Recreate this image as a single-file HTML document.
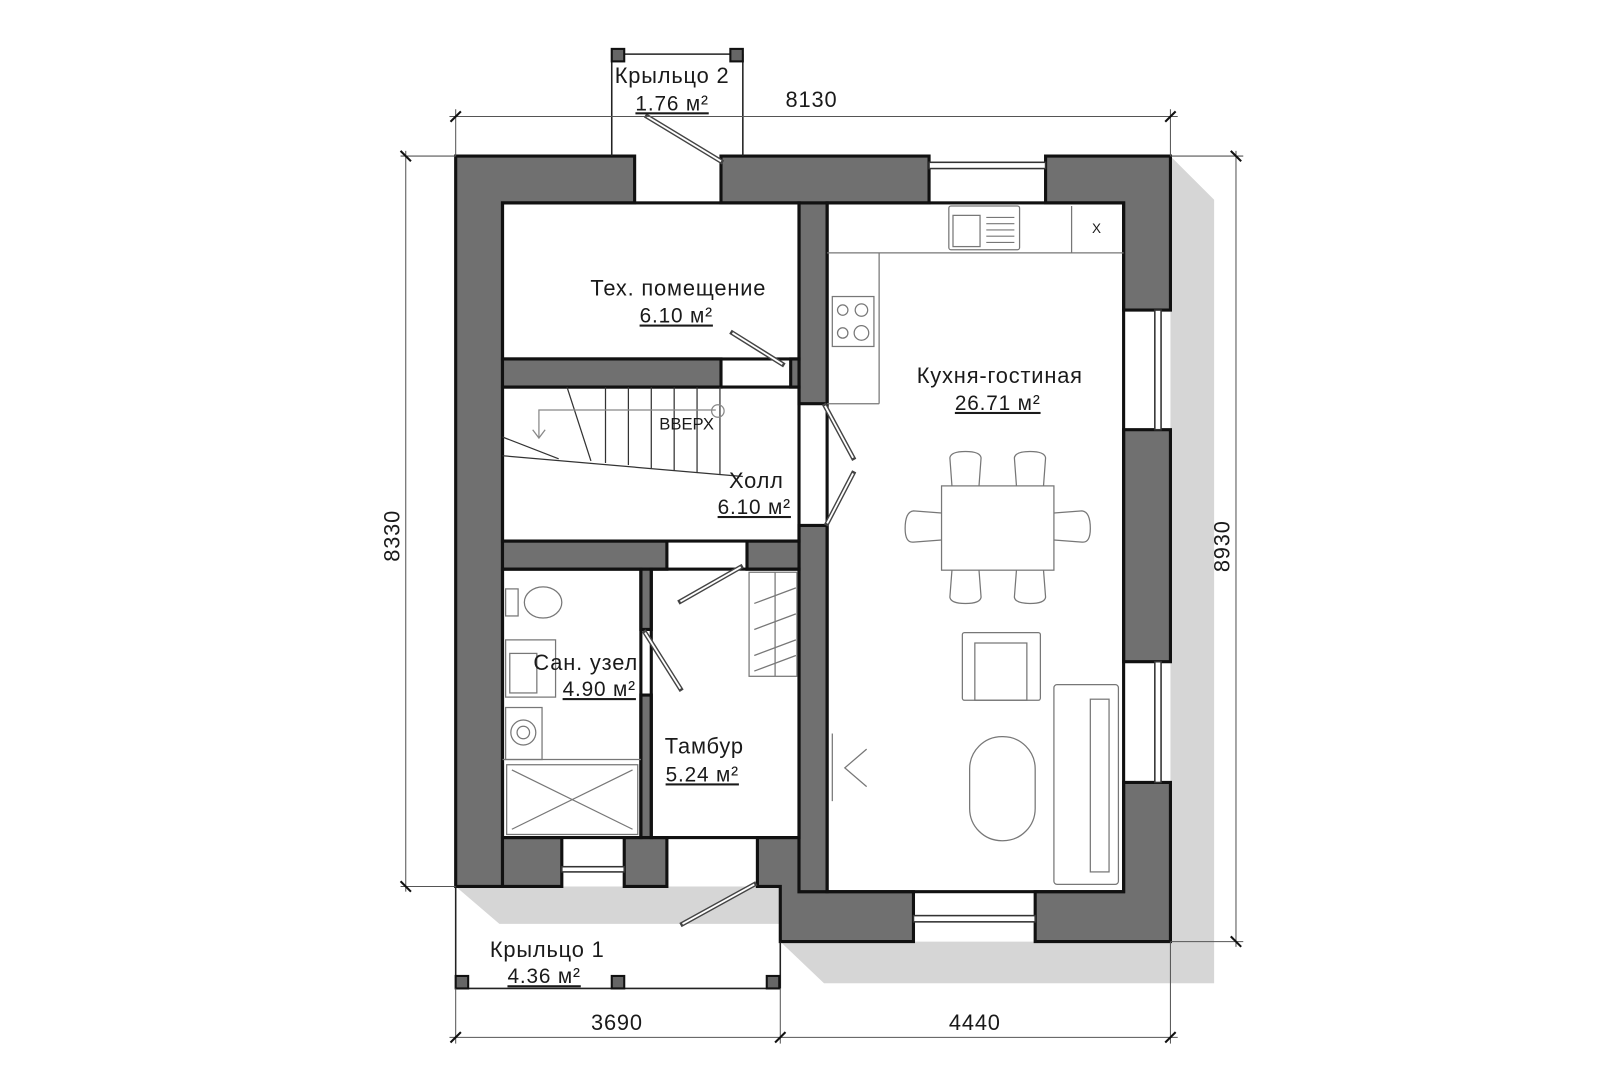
<!DOCTYPE html>
<html><head><meta charset="utf-8"><style>
html,body{margin:0;padding:0;background:#fff;}
svg{display:block;}
text{font-family:"Liberation Sans",sans-serif;fill:#1a1a1a;}
</style></head><body>
<svg width="1623" height="1080" viewBox="0 0 1560 1038" preserveAspectRatio="none" xmlns="http://www.w3.org/2000/svg">
<polygon points="1125,150 1167,192 1167,945 792,945 750,905 1125,905" fill="#d6d6d6"/>
<polygon points="438,852 480,888 750,888 750,852" fill="#d6d6d6"/>
<g fill="#707070" stroke="#111" stroke-width="3">
<path d="M438,150 H610 V195 H483 V852 H438 Z"/>
<path d="M693,150 H893 V195 H693 Z"/>
<path d="M1005,150 H1125 V298 H1080 V195 H1005 Z"/>
<path d="M1080,413 H1125 V636 H1080 Z"/>
<path d="M1080,752 H1125 V905 H995 V857 H1080 Z"/>
<path d="M878,905 H750 V852 H728 V805 H768 V857 H878 Z"/>
<path d="M483,805 H540 V852 H483 Z"/>
<path d="M600,805 H641 V852 H600 Z"/>
<path d="M768,195 H795 V388 H768 Z"/>
<path d="M768,505 H795 V857 H768 Z"/>
<path d="M483,345 H693 V372 H483 Z"/>
<path d="M760,345 H768 V372 H760 Z"/>
<path d="M483,520 H641 V547 H483 Z"/>
<path d="M718,520 H768 V547 H718 Z"/>
<path d="M616,547 H626 V605 H616 Z"/>
<path d="M616,668 H626 V805 H616 Z"/>
</g>
<g fill="none" stroke="#111" stroke-width="3">
<rect x="483" y="195" width="285" height="150"/>
<rect x="483" y="372" width="285" height="148"/>
<rect x="483" y="547" width="133" height="258"/>
<rect x="626" y="547" width="142" height="258"/>
<rect x="795" y="195" width="285" height="662"/>
</g>
<g fill="#fff" stroke="#333" stroke-width="1.5">
<rect x="893" y="156" width="112" height="6"/>
<rect x="1110" y="298" width="6" height="115"/>
<rect x="1110" y="636" width="6" height="116"/>
<rect x="878" y="880" width="117" height="6"/>
<rect x="540" y="833" width="60" height="5"/>
</g>
<g stroke="#222" stroke-width="1.5" fill="none">
<line x1="588" y1="52" x2="588" y2="150"/><line x1="714" y1="52" x2="714" y2="150"/>
<line x1="588" y1="52" x2="714" y2="52"/>
</g>
<rect x="588" y="47" width="12" height="12" fill="#666" stroke="#111" stroke-width="2"/>
<rect x="702" y="47" width="12" height="12" fill="#666" stroke="#111" stroke-width="2"/>
<g stroke="#222" stroke-width="1.5" fill="none">
<line x1="438" y1="852" x2="438" y2="950"/><line x1="750" y1="905" x2="750" y2="950"/>
<line x1="438" y1="950" x2="750" y2="950"/>
</g>
<rect x="438" y="938" width="12" height="12" fill="#666" stroke="#111" stroke-width="2"/>
<rect x="588" y="938" width="12" height="12" fill="#666" stroke="#111" stroke-width="2"/>
<rect x="737" y="938" width="12" height="12" fill="#666" stroke="#111" stroke-width="2"/>
<g stroke="#444" stroke-width="4.5" fill="none" stroke-linecap="square">
<line x1="622" y1="112" x2="693" y2="155"/>
<line x1="704" y1="320" x2="752" y2="350"/>
<line x1="793" y1="390" x2="820" y2="440"/>
<line x1="820" y1="455" x2="795" y2="503"/>
<line x1="654" y1="578" x2="712" y2="545"/>
<line x1="620" y1="608" x2="654" y2="662"/>
<line x1="656" y1="888" x2="725" y2="850"/>
</g>
<g stroke="#fff" stroke-width="1.8" fill="none">
<line x1="622" y1="112" x2="693" y2="155"/>
<line x1="704" y1="320" x2="752" y2="350"/>
<line x1="793" y1="390" x2="820" y2="440"/>
<line x1="820" y1="455" x2="795" y2="503"/>
<line x1="654" y1="578" x2="712" y2="545"/>
<line x1="620" y1="608" x2="654" y2="662"/>
<line x1="656" y1="888" x2="725" y2="850"/>
</g>
<g stroke="#333" stroke-width="1.2" fill="none">
<line x1="483" y1="438" x2="714" y2="458"/>
<line x1="483" y1="420" x2="537" y2="441"/>
<line x1="582" y1="372" x2="582" y2="445"/><line x1="604" y1="372" x2="604" y2="447"/>
<line x1="626" y1="372" x2="626" y2="450"/><line x1="648" y1="372" x2="648" y2="452"/>
<line x1="670" y1="372" x2="670" y2="454"/><line x1="692" y1="372" x2="692" y2="456"/>
<line x1="545" y1="372" x2="568" y2="443"/>
<polyline points="688,394 518,394 518,420" stroke="#888"/><polyline points="512,413 518,421 524,413" stroke="#888"/>
<circle cx="690" cy="395" r="6" stroke="#888"/>
</g>
<text x="660" y="413" font-size="16" text-anchor="middle">ВВЕРХ</text>
<g stroke="#777" stroke-width="1.2" fill="none">
<line x1="795" y1="243" x2="1080" y2="243"/>
<line x1="845" y1="243" x2="845" y2="388"/><line x1="795" y1="388" x2="845" y2="388"/>
<rect x="912" y="198" width="68" height="42" rx="2"/>
<rect x="916" y="207" width="26" height="30"/>
<line x1="1030" y1="198" x2="1030" y2="243"/>
<rect x="800" y="285" width="40" height="48"/>
<circle cx="810" cy="298" r="5"/><circle cx="828" cy="298" r="6"/><circle cx="810" cy="320" r="5"/><circle cx="828" cy="320" r="7"/>
<rect x="905" y="467" width="108" height="81"/>
<path d="M915,467 L913,440 Q914,434 928,434 Q942,434 943,440 L941,467"/>
<path d="M977,467 L975,440 Q976,434 990,434 Q1004,434 1005,440 L1003,467"/>
<path d="M915,548 L913,574 Q914,580 928,580 Q942,580 943,574 L941,548"/>
<path d="M977,548 L975,574 Q976,580 990,580 Q1004,580 1005,574 L1003,548"/>
<path d="M905,493 L878,491 Q870,492 870,508 Q870,522 878,521 L905,519"/>
<path d="M1013,493 L1040,491 Q1048,492 1048,508 Q1048,522 1040,521 L1013,519"/>
<rect x="925" y="608" width="75" height="65" rx="2"/>
<rect x="937" y="618" width="50" height="55"/>
<rect x="1013" y="658" width="62" height="192" rx="3"/>
<rect x="1048" y="672" width="18" height="166"/>
<rect x="932" y="708" width="63" height="100" rx="31"/>
<line x1="800" y1="705" x2="800" y2="770"/><polyline points="833,720 812,738 833,756"/>
</g>
<text x="1054" y="224" font-size="13" fill="#777" text-anchor="middle">X</text>
<g stroke="#777" stroke-width="1"><line x1="948" y1="209" x2="975" y2="209"/><line x1="948" y1="215" x2="975" y2="215"/><line x1="948" y1="221" x2="975" y2="221"/><line x1="948" y1="227" x2="975" y2="227"/><line x1="948" y1="233" x2="975" y2="233"/></g>
<g stroke="#777" stroke-width="1.2" fill="none">
<rect x="486" y="566" width="12" height="26"/><ellipse cx="522" cy="579" rx="18" ry="15"/>
<rect x="486" y="615" width="48" height="55"/><rect x="490" y="628" width="26" height="38"/>
<rect x="486" y="680" width="35" height="50"/><circle cx="503" cy="704" r="12"/><circle cx="503" cy="704" r="6"/>
<line x1="483" y1="730" x2="616" y2="730"/>
<rect x="487" y="735" width="126" height="67"/>
<line x1="492" y1="740" x2="608" y2="797"/><line x1="608" y1="740" x2="492" y2="797"/>
<rect x="720" y="550" width="46" height="100"/>
<line x1="745" y1="550" x2="745" y2="650"/>
<polyline points="725,580 765,565"/><polyline points="725,605 765,590"/><polyline points="725,630 765,615"/><polyline points="725,645 765,630"/>
</g>
<g font-size="21" text-anchor="middle" letter-spacing="0.8">
<text x="646" y="80">Крыльцо 2</text>
<text x="646" y="106" font-size="20" text-decoration="underline" fill="#444">1.76 м²</text>
<text x="652" y="284">Тех. помещение</text>
<text x="650" y="310" font-size="20" text-decoration="underline" fill="#444">6.10 м²</text>
<text x="961" y="368">Кухня-гостиная</text>
<text x="959" y="394" font-size="20" text-decoration="underline" fill="#444">26.71 м²</text>
<text x="727" y="469">Холл</text>
<text x="725" y="494" font-size="20" text-decoration="underline" fill="#444">6.10 м²</text>
<text x="563" y="644">Сан. узел</text>
<text x="576" y="669" font-size="20" text-decoration="underline" fill="#444">4.90 м²</text>
<text x="677" y="724">Тамбур</text>
<text x="675" y="751" font-size="20" text-decoration="underline" fill="#444">5.24 м²</text>
<text x="526" y="920">Крыльцо 1</text>
<text x="523" y="945" font-size="20" text-decoration="underline" fill="#444">4.36 м²</text>
<text x="780" y="103" fill="#333">8130</text>
<text x="593" y="990" fill="#333">3690</text>
<text x="937" y="990" fill="#333">4440</text>
<text transform="translate(384,515) rotate(-90)" fill="#333">8330</text>
<text transform="translate(1182,525) rotate(-90)" fill="#333">8930</text>
</g>
<g stroke="#555" stroke-width="1" fill="none">
<line x1="432" y1="112" x2="1132" y2="112"/>
<line x1="438" y1="105" x2="438" y2="150"/><line x1="1125" y1="105" x2="1125" y2="150"/>
<line x1="390" y1="145" x2="390" y2="857"/>
<line x1="385" y1="150" x2="438" y2="150"/><line x1="385" y1="852" x2="438" y2="852"/>
<line x1="1188" y1="145" x2="1188" y2="910"/>
<line x1="1125" y1="150" x2="1195" y2="150"/><line x1="1125" y1="905" x2="1195" y2="905"/>
<line x1="432" y1="997" x2="1132" y2="997"/>
<line x1="438" y1="950" x2="438" y2="1003"/><line x1="750" y1="950" x2="750" y2="1003"/><line x1="1125" y1="905" x2="1125" y2="1003"/>
</g>
<g stroke="#111" stroke-width="2">
<line x1="433" y1="117" x2="443" y2="107"/><line x1="1120" y1="117" x2="1130" y2="107"/>
<line x1="385" y1="145" x2="395" y2="155"/><line x1="385" y1="847" x2="395" y2="857"/>
<line x1="1183" y1="145" x2="1193" y2="155"/><line x1="1183" y1="900" x2="1193" y2="910"/>
<line x1="433" y1="1002" x2="443" y2="992"/><line x1="745" y1="1002" x2="755" y2="992"/><line x1="1120" y1="1002" x2="1130" y2="992"/>
</g>
</svg>
</body></html>
